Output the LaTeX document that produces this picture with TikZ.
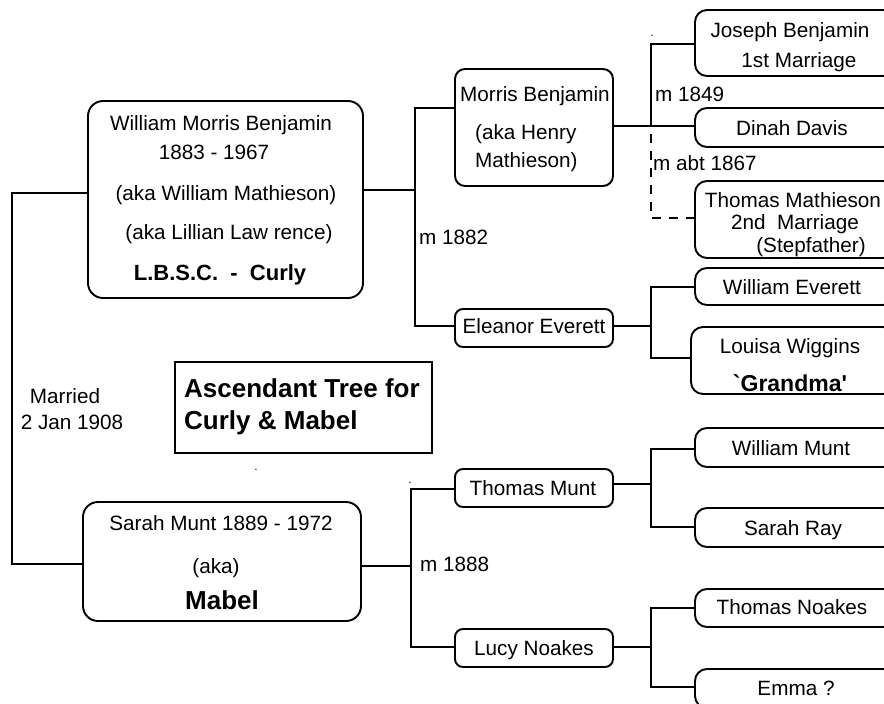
\documentclass[tikz,border=0pt]{standalone}
\usepackage{fontspec}
\setmainfont{Liberation Sans}
\newcommand\freg{\fontsize{20.7}{24}\selectfont}
\newcommand\fbold{\fontsize{22}{26}\selectfont\bfseries}
\newcommand\fgran{\fontsize{23}{27}\selectfont\bfseries}
\newcommand\fbig{\fontsize{26}{30}\selectfont\bfseries}
\begin{document}
\begin{tikzpicture}[x=1pt,y=-1pt,
  pbox/.style={draw, line width=1.9pt, rounded corners=#1, inner sep=0pt, minimum height=38, minimum width=200},
  pbox/.default=10,
  tx/.style={inner sep=0pt, anchor=base, font=\freg},
  txw/.style={inner sep=0pt, anchor=base west, font=\freg},
  conn/.style={line width=1.9pt},
  dconn/.style={line width=1.9pt, dash pattern=on 9pt off 8pt, dash phase=-8pt}]
\useasboundingbox (0,0) rectangle (884,704);
\clip (0,0) rectangle (884,704);
\fill[white] (0,0) rectangle (884,704);

% ---- boxes ----
\node[pbox=15, minimum width=275, minimum height=197] (wmb) at (225.5,199.5) {};
\node[pbox=15, minimum width=278, minimum height=119] (smb) at (222,561.5) {};
\node[pbox=0, minimum width=257, minimum height=91] (title) at (303.5,407.5) {};
\node[pbox=10, minimum width=158, minimum height=117] (morris) at (534,127.5) {};
\node[pbox=8, minimum width=158] (eleanor) at (534,328) {};
\node[pbox=8, minimum width=158] (tmunt) at (534,488) {};
\node[pbox=8, minimum width=158] (lucy) at (534,648) {};
\node[pbox=12, minimum height=66] (joseph) at (795,43) {};
\node[pbox=12, minimum height=39] (dinah) at (795,127.5) {};
\node[pbox=12, minimum height=77] (tmath) at (795,219.5) {};
\node[pbox=12, minimum height=37] (wev) at (795,286.5) {};
\node[pbox=12, minimum width=204, minimum height=67] (louisa) at (793,360.5) {};
\node[pbox=12, minimum height=39] (wmunt) at (795,447.5) {};
\node[pbox=12, minimum height=39] (sray) at (795,527.5) {};
\node[pbox=12, minimum height=38] (tnoakes) at (795,608) {};
\node[pbox=12, minimum height=39] (emma) at (795,688.5) {};

% ---- junction coordinates ----
\coordinate (jL1) at (12,193);
\coordinate (jL2) at (12,564);
\coordinate (jA) at (415,190);
\coordinate (jAt) at (415,108);
\coordinate (jAb) at (415,326);
\coordinate (jB) at (651,126);
\coordinate (jBt) at (651,44);
\coordinate (jBd) at (651,218);
\coordinate (jC) at (651,326);
\coordinate (jCt) at (651,287);
\coordinate (jCb) at (651,358);
\coordinate (jD) at (411,566);
\coordinate (jDt) at (411,489);
\coordinate (jDb) at (411,647);
\coordinate (jE) at (651,484);
\coordinate (jEt) at (651,449);
\coordinate (jEb) at (651,527);
\coordinate (jF) at (651,647);
\coordinate (jFt) at (651,608);
\coordinate (jFb) at (651,687);

% ---- connectors ----
\draw[conn] (wmb.west |- jL1) -- (jL1) -- (jL2) -- (smb.west |- jL2);
\draw[conn] (wmb.east |- jA) -- (jA);
\draw[conn] (morris.west |- jAt) -- (jAt) -- (jAb) -- (eleanor.west |- jAb);
\draw[conn] (morris.east |- jB) -- (dinah.west |- jB);
\draw[conn] (jB) -- (jBt) -- (joseph.west |- jBt);
\draw[dconn] (jB) -- (jBd) -- (tmath.west |- jBd);
\draw[conn] (eleanor.east |- jC) -- (jC);
\draw[conn] (wev.west |- jCt) -- (jCt) -- (jCb) -- (louisa.west |- jCb);
\draw[conn] (smb.east |- jD) -- (jD);
\draw[conn] (tmunt.west |- jDt) -- (jDt) -- (jDb) -- (lucy.west |- jDb);
\draw[conn] (tmunt.east |- jE) -- (jE);
\draw[conn] (wmunt.west |- jEt) -- (jEt) -- (jEb) -- (sray.west |- jEb);
\draw[conn] (lucy.east |- jF) -- (jF);
\draw[conn] (tnoakes.west |- jFt) -- (jFt) -- (jFb) -- (emma.west |- jFb);

% ---- texts ----
\node[tx] (t1) at (221,130.4) {William Morris Benjamin};
\node[tx] (t2) at (214,159.4) {1883 - 1967};
\node[tx] (t3) at (226,200.4) {(aka William Mathieson)};
\node[tx] (t4) at (229,239.4) {(aka Lillian Law rence)};
\node[tx, font=\fbold] (t5) at (220,280.9) {L.B.S.C.\ \ -\ \ Curly};

\node[tx] (t6) at (535,101.4) {Morris Benjamin};
\node[txw] (t7) at (475,139.4) {(aka Henry};
\node[txw] (t8) at (475,167.4) {Mathieson)};

\node[txw] (t9) at (655,101.4) {m 1849};
\node[txw] (t10) at (653,170.4) {m abt 1867};
\node[txw] (t11) at (419,244.4) {m 1882};
\node[txw] (t12) at (420,571.4) {m 1888};

\node[tx] (t13) at (790,37.4) {Joseph Benjamin};
\node[tx] (t14) at (799,67.4) {1st Marriage};
\node[tx] (t15) at (792,135.4) {Dinah Davis};
\node[tx] (t16) at (793,207.4) {Thomas Mathieson};
\node[tx] (t17) at (795,229.4) {2nd\ \ Marriage};
\node[tx] (t18) at (811,252.4) {(Stepfather)};
\node[tx] (t19) at (792,294.4) {William Everett};
\node[tx] (t20) at (534,333.4) {Eleanor Everett};
\node[tx] (t21) at (790,353.4) {Louisa Wiggins};
\node[tx, font=\fgran] (t22) at (790,391.2) {\textasciigrave Grandma\textquotesingle};

\node[tx] (t23) at (65,403.4) {Married};
\node[tx] (t24) at (72,429.4) {2 Jan 1908};
\node[inner sep=0pt, anchor=base west, font=\fbig] (t25) at (184,397.3) {Ascendant Tree for};
\node[inner sep=0pt, anchor=base west, font=\fbig] (t26) at (184,429.3) {Curly \& Mabel};

\node[tx] (t27) at (221,530.4) {Sarah Munt 1889 - 1972};
\node[tx] (t28) at (216,573.4) {(aka)};
\node[tx, font=\fbig] (t29) at (222,609.3) {Mabel};

\node[tx] (t30) at (533,495.4) {Thomas Munt};
\node[tx] (t31) at (791,455.4) {William Munt};
\node[tx] (t32) at (793,535.4) {Sarah Ray};
\node[tx] (t33) at (792,614.4) {Thomas Noakes};
\node[tx] (t34) at (534,655.4) {Lucy Noakes};
\node[tx] (t35) at (796,695.4) {Emma ?};

% ---- stray dots ----
\node[tx, font=\fontsize{12}{12}\selectfont] (d1) at (652,36) {.};
\node[tx, font=\fontsize{12}{12}\selectfont] (d2) at (256,470) {.};
\node[tx, font=\fontsize{12}{12}\selectfont] (d3) at (410,483) {.};
\end{tikzpicture}
\end{document}
